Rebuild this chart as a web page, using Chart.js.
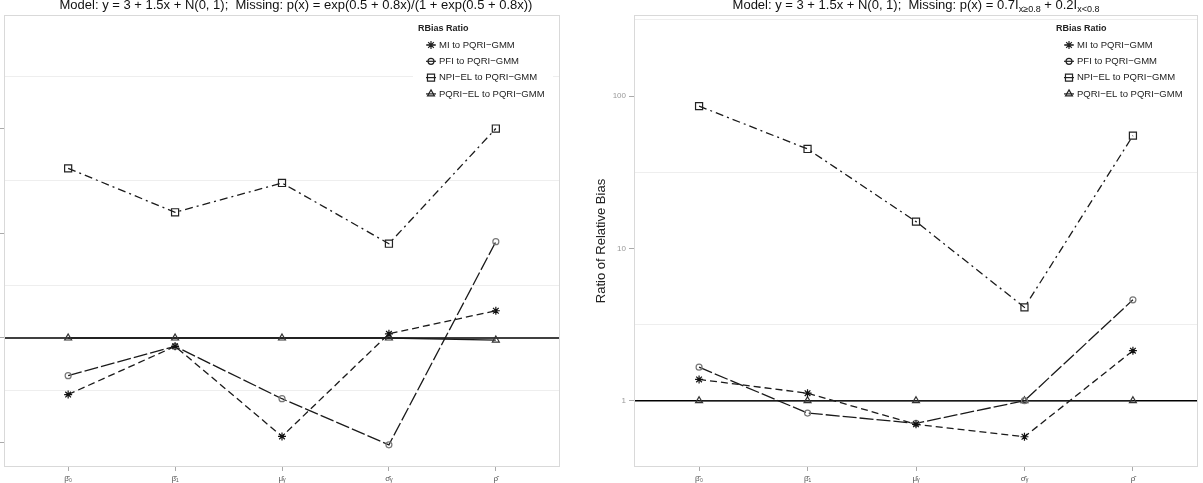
<!DOCTYPE html>
<html>
<head>
<meta charset="utf-8">
<script src="https://cdn.jsdelivr.net/npm/chart.js@4.4.1/dist/chart.umd.min.js"></script>
<style>
    body { margin: 0; background: #fff; }
    #wrap { position: relative; width: 1203px; height: 483px; overflow: hidden; background: #fff; font-family: "Liberation Sans", Arial, sans-serif; }
    .panel { position: absolute; top: 0; }
    .title { position: absolute; top: -2px; font-size: 13px; line-height: 13px; white-space: nowrap; transform: translateX(-50%); color: #111; }
    .title sub { font-size: 9px; line-height: 0; vertical-align: -3px; }
</style>
</head>
<body>
<div id="wrap">
    <canvas id="leftChart" class="panel" style="left:0" width="562" height="483"></canvas>
    <canvas id="rightChart" class="panel" style="left:562px" width="641" height="483"></canvas>
    <div class="title" style="left:296px">Model: y = 3 + 1.5x + N(0, 1);&nbsp; Missing: p(x) = exp(0.5 + 0.8x)/(1 + exp(0.5 + 0.8x))</div>
    <div class="title" style="left:916px">Model: y = 3 + 1.5x + N(0, 1);&nbsp; Missing: p(x) = 0.7I<sub>x≥0.8</sub> + 0.2I<sub>x&lt;0.8</sub></div>
</div>
<script>
// estimands on the x axis
const estimands = ['β̂₀', 'β̂₁', 'μ̂ᵧ', 'σ̂ᵧ', 'ρ̂'];
const seriesNames = ['MI to PQRI−GMM', 'PFI to PQRI−GMM', 'NPI−EL to PQRI−GMM', 'PQRI−EL to PQRI−GMM'];
const referenceRatio = 1;

// left panel: logistic missingness (axis labels are cropped off in the picture)
const logitMI = [0.73, 0.96, 0.53, 1.02, 1.13];
const logitPFI = [0.82, 0.96, 0.71, 0.49, 1.46];
const logitNPIEL = [1.81, 1.60, 1.74, 1.45, 2.00];
const logitPQRIEL = [1, 1, 1, 1, 0.99];
const logitTicks = [0.5, 0.75, 1, 1.25, 1.5, 1.75, 2, 2.25];

// right panel: step missingness, log axis
const stepMI = [1.38, 1.12, 0.70, 0.58, 2.13];
const stepPFI = [1.66, 0.83, 0.71, 1.0, 4.6];
const stepNPIEL = [86, 45, 15, 4.1, 55];
const stepPQRIEL = [1, 1, 1, 1, 1];
const stepTicks = [1, 3.1623, 10, 31.623, 100, 316.23];

const FONT = '"Liberation Sans", Arial, sans-serif';
Chart.defaults.font.family = FONT;

const lineStyles = [
    { dash: [7, 4], point: 'star', radius: 4, color: '#111' },
    { dash: [14, 3], point: 'circle', radius: 3, color: '#777' },
    { dash: [8, 4, 2, 4], point: 'rect', radius: 5, color: '#222' },
    { dash: [], point: 'triangle', radius: 4, color: '#333' }
];

const panelBorder = {
    id: 'panelBorder',
    afterDatasetsDraw(chart) {
        const { ctx, chartArea: a } = chart;
        ctx.save();
        ctx.strokeStyle = '#d9d9d9';
        ctx.lineWidth = 1;
        ctx.strokeRect(a.left + 0.5, a.top + 0.5, a.width - 1, a.height - 1);
        ctx.restore();
    }
};

const refLine = {
    id: 'refLine',
    beforeDatasetsDraw(chart) {
        const { ctx, chartArea: a } = chart;
        const y = chart.scales.y.getPixelForValue(referenceRatio);
        ctx.save();
        ctx.strokeStyle = '#000';
        ctx.lineWidth = 1.5;
        ctx.beginPath();
        ctx.moveTo(a.left, y);
        ctx.lineTo(a.right, y);
        ctx.stroke();
        ctx.restore();
    }
};

const rbiasLegend = {
    id: 'rbiasLegend',
    afterDatasetsDraw(chart) {
        const { ctx, chartArea: a } = chart;
        const x = a.right - 142, y = a.top;
        ctx.save();
        ctx.fillStyle = '#fff';
        ctx.fillRect(x - 5, y + 6, 140, 96);
        ctx.textBaseline = 'middle';
        ctx.textAlign = 'left';
        ctx.fillStyle = '#222';
        ctx.font = 'bold 9px ' + FONT;
        ctx.fillText('RBias Ratio', x, y + 14);
        ctx.font = '9.5px ' + FONT;
        chart.data.datasets.forEach((ds, i) => {
            const cy = y + 30 + i * 16.3;
            ctx.strokeStyle = '#222';
            ctx.lineWidth = 1.2;
            ctx.setLineDash([]);
            ctx.beginPath();
            ctx.moveTo(x + 8, cy);
            ctx.lineTo(x + 18, cy);
            ctx.stroke();
            ctx.fillStyle = 'rgba(0,0,0,0)';
            Chart.helpers.drawPoint(ctx, { pointStyle: ds.pointStyle, radius: ds.pointRadius, borderWidth: 1.2, rotation: 0 }, x + 13, cy);
            ctx.fillStyle = '#222';
            ctx.fillText(ds.label, x + 21, cy);
        });
        ctx.restore();
    }
};

function makeDatasets(seriesList) {
    return seriesList.map((values, i) => ({
        label: seriesNames[i],
        data: values.map((v, j) => ({ x: j, y: v })),
        borderColor: '#1a1a1a',
        borderWidth: 1.3,
        borderDash: lineStyles[i].dash,
        pointStyle: lineStyles[i].point,
        pointRadius: lineStyles[i].radius,
        pointBorderColor: lineStyles[i].color,
        pointBackgroundColor: 'rgba(0,0,0,0)',
        pointBorderWidth: 1.2,
        tension: 0,
        fill: false
    }));
}

function xScale() {
    return {
        type: 'linear', min: -0.6, max: 4.6,
        afterBuildTicks: s => { s.ticks = estimands.map((_, i) => ({ value: i })); },
        afterFit: s => { s.height = 16; s.paddingLeft = 0; s.paddingRight = 0; },
        ticks: { callback: v => estimands[v], font: { size: 8 }, color: '#555', padding: 3, maxRotation: 0, autoSkip: false },
        grid: { drawOnChartArea: false, tickLength: 4, tickColor: '#aaa' },
        border: { display: false }
    };
}

function gridStyle(isMajor) {
    return {
        color: c => (c.tick && isMajor(c.tick.value)) ? 'rgba(0,0,0,0)' : '#eeeeee',
        tickColor: c => (c.tick && isMajor(c.tick.value)) ? '#aaa' : 'rgba(0,0,0,0)',
        tickLength: 5
    };
}

const halfStep = v => Math.abs(v * 2 - Math.round(v * 2)) < 1e-6;
const decade = v => Math.abs(Math.log10(v) - Math.round(Math.log10(v))) < 1e-6;

new Chart(document.getElementById('leftChart'), {
    type: 'line',
    data: { datasets: makeDatasets([logitMI, logitPFI, logitNPIEL, logitPQRIEL]) },
    options: {
        responsive: false,
        animation: false,
        layout: { autoPadding: false, padding: { left: 0, top: 15, right: 2, bottom: 0 } },
        plugins: { legend: { display: false }, tooltip: { enabled: false } },
        scales: {
            x: xScale(),
            y: {
                type: 'linear', min: 0.384, max: 2.542,
                afterBuildTicks: s => { s.ticks = logitTicks.map(v => ({ value: v })); },
                afterFit: s => { s.width = 4; },
                ticks: { display: false },
                grid: gridStyle(halfStep),
                border: { display: false }
            }
        }
    },
    plugins: [refLine, panelBorder, rbiasLegend]
});

new Chart(document.getElementById('rightChart'), {
    type: 'line',
    data: { datasets: makeDatasets([stepMI, stepPFI, stepNPIEL, stepPQRIEL]) },
    options: {
        responsive: false,
        animation: false,
        layout: { autoPadding: false, padding: { left: 28, top: 15, right: 5, bottom: 0 } },
        plugins: { legend: { display: false }, tooltip: { enabled: false } },
        scales: {
            x: xScale(),
            y: {
                type: 'logarithmic', min: 0.367, max: 341,
                afterBuildTicks: s => { s.ticks = stepTicks.map(v => ({ value: v })); },
                afterFit: s => { s.width = 44; },
                title: { display: true, text: 'Ratio of Relative Bias', font: { size: 13 }, color: '#222', padding: { top: 4, bottom: 4 } },
                ticks: { font: { size: 8 }, color: '#999', padding: 3, autoSkip: false, callback: v => decade(v) ? String(Math.round(v)) : '' },
                grid: gridStyle(decade),
                border: { display: false }
            }
        }
    },
    plugins: [refLine, panelBorder, rbiasLegend]
});
</script>
</body>
</html>
